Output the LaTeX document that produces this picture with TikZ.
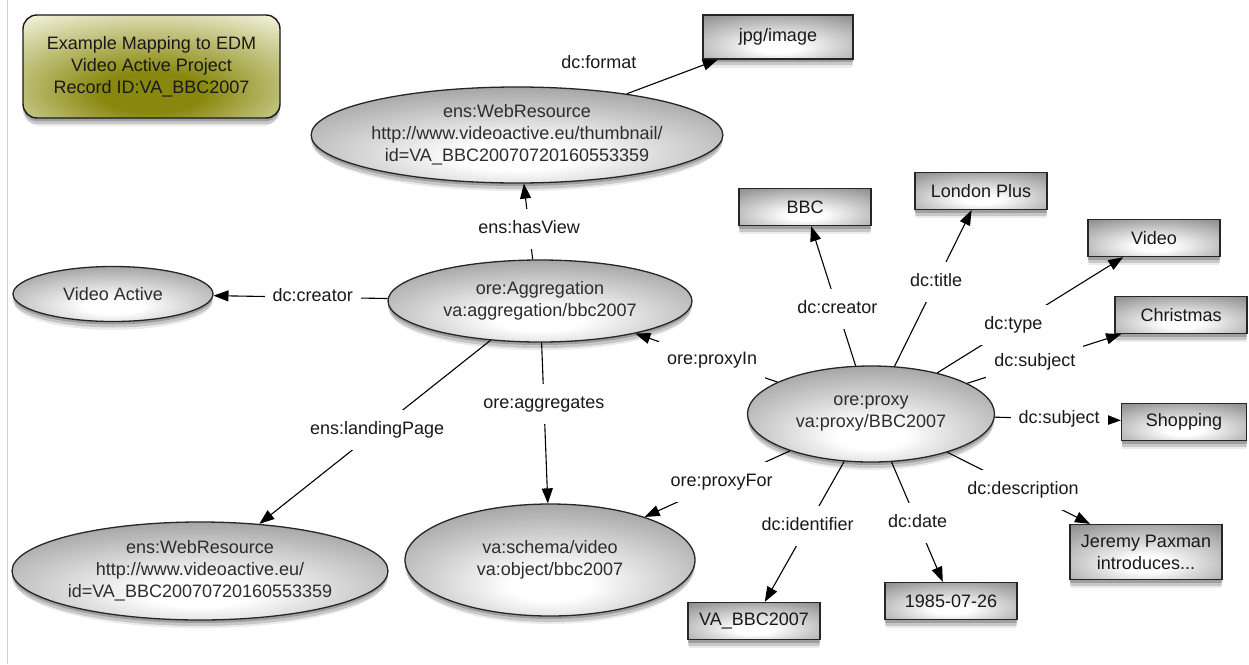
\documentclass[tikz,border=0pt]{standalone}
\usepackage{fontspec}
\setmainfont{Liberation Sans}
\usetikzlibrary{shapes.geometric,arrows.meta,shadows}
\definecolor{olivedark}{RGB}{136,136,14}
\definecolor{olivelight}{RGB}{246,246,228}
\definecolor{shadeedge}{RGB}{135,135,135}
\definecolor{shadeout}{RGB}{125,125,125}
\definecolor{txt}{RGB}{45,45,45}
\pgfdeclareradialshading{grayshade}{\pgfpoint{0bp}{-12bp}}{color(0bp)=(white); color(7bp)=(white); color(42bp)=(shadeedge); color(100bp)=(shadeout)}
\pgfdeclareradialshading{oliveshade}{\pgfpoint{0bp}{-14bp}}{color(0bp)=(olivedark); color(10bp)=(olivedark); color(42bp)=(olivelight); color(100bp)=(olivelight)}
\newcommand\fs{\fontsize{18}{22}\selectfont}
\tikzset{
  shad/.style={drop shadow={shadow xshift=0pt, shadow yshift=-3pt, opacity=0.2, fill=black},
               drop shadow={shadow xshift=0pt, shadow yshift=-6pt, opacity=0.15, fill=black},
               drop shadow={shadow xshift=0pt, shadow yshift=-9pt, shadow scale=0.985, opacity=0.08, fill=black}},
  ell/.style={ellipse, draw=black!85, line width=1.3pt, shade, shading=grayshade, text=txt, align=center, inner sep=0pt, font=\fs, shad},
  box/.style={rectangle, draw=black!85, line width=1.3pt, shade, shading=grayshade, text=black!90, align=center, inner sep=0pt, font=\fs, minimum width=132pt, minimum height=37pt, shad},
  titlebox/.style={rectangle, rounded corners=14pt, draw=black!90, line width=1.4pt, shade, shading=oliveshade, text=black!90, align=center, font=\fs, shad},
  lbl/.style={fill=white, inner xsep=8pt, inner ysep=11.5pt, text height=13pt, text depth=4pt, font=\fs, text=black!90},
  arr/.style={line width=1.1pt, -{Triangle[length=15pt,width=11pt]}},
}
\begin{document}
\begin{tikzpicture}[x=1pt,y=-1pt]
\useasboundingbox (0,0) rectangle (1249,664);
\fill[white] (0,0) rectangle (1249,664);
\draw[black!18, line width=0.8pt] (7,0) -- (7,664);

\node[titlebox, minimum width=257pt, minimum height=103pt] (title) at (151.5,66.5) {Example Mapping to EDM\\Video Active Project\\Record ID:VA\_BBC2007};

\node[ell, minimum width=410pt, minimum height=96pt] (thumb) at (517,135) {ens:WebResource\\http://www.videoactive.eu/thumbnail/\\id=VA\_BBC20070720160553359};
\node[box, minimum width=150pt, minimum height=44pt] (jpg) at (778,37) {jpg/image};
\node[ell, minimum width=304pt, minimum height=82pt] (agg) at (540,301) {ore:Aggregation\\va:aggregation/bbc2007};
\node[ell, minimum width=200pt, minimum height=55pt] (vact) at (113,294) {Video Active};
\node[ell, minimum width=376pt, minimum height=98pt] (land) at (200,571) {ens:WebResource\\http://www.videoactive.eu/\\id=VA\_BBC20070720160553359};
\node[ell, minimum width=290pt, minimum height=112pt] (schema) at (550,560) {va:schema/video\\va:object/bbc2007};
\node[ell, minimum width=247pt, minimum height=96pt] (proxy) at (871,414) {ore:proxy\\va:proxy/BBC2007};

\node[box] (bbc) at (805,207) {BBC};
\node[box] (london) at (981,191) {London Plus};
\node[box] (video) at (1154,238) {Video};
\node[box] (xmas) at (1181,315) {Christmas};
\node[box, minimum width=125pt] (shop) at (1184,422) {Shopping};
\node[box, minimum width=152pt, minimum height=55pt] (jeremy) at (1146,552) {Jeremy Paxman\\introduces...};
\node[box] (date) at (951,601) {1985-07-26};
\node[box] (vaid) at (754,621) {VA\_BBC2007};

\draw[arr] (agg) -- node[lbl,pos=0.43]{dc:creator} (vact);
\draw[arr] (agg.100) -- node[lbl,pos=0.40]{ens:hasView} (thumb.-82);
\draw[arr] (thumb) -- node[pos=0,xshift=-28pt,yshift=32pt,font=\fs,text=black!90]{dc:format} (jpg);
\draw[arr] (agg) -- node[lbl,pos=0.49]{ens:landingPage} (land);
\draw[arr] (agg) -- node[lbl,pos=0.38]{ore:aggregates} (schema);
\draw[arr] (proxy) -- node[lbl,pos=0.46]{ore:proxyIn} (agg);
\draw[arr] (proxy) -- node[lbl,pos=0.47]{ore:proxyFor} (schema);
\draw[arr] (proxy) -- node[lbl,pos=0.41]{dc:creator} (bbc);
\draw[arr] (proxy) -- node[lbl,pos=0.54]{dc:title} (london);
\draw[arr] (proxy) -- node[lbl,pos=0.41]{dc:type} (video);
\draw[arr] (proxy) -- node[lbl,pos=0.44]{dc:subject} (xmas);
\draw[arr] (proxy) -- node[lbl,pos=0.51]{dc:subject} (shop);
\draw[arr] (proxy) -- node[lbl,pos=0.53]{dc:description} (jeremy);
\draw[arr] (proxy) -- node[lbl,pos=0.51]{dc:date} (date);
\draw[arr] (proxy) -- node[lbl,pos=0.46]{dc:identifier} (vaid);
\end{tikzpicture}
\end{document}
